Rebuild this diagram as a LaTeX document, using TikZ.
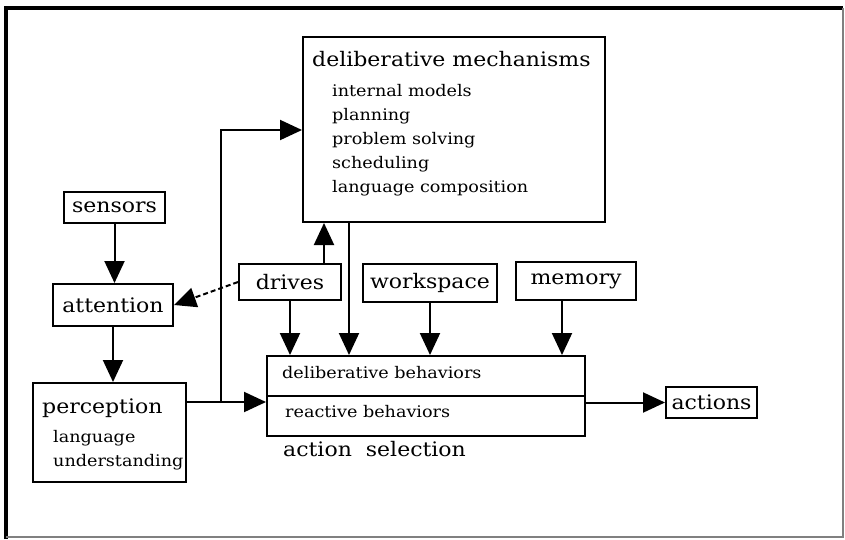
\documentclass[tikz,border=0pt]{standalone}
\usepackage{fontspec}
\setmainfont[FakeStretch=1.1]{DejaVu Serif}
\usetikzlibrary{arrows.meta,calc}
\begin{document}
\begin{tikzpicture}[x=1pt,y=-1pt,
  box/.style={draw,line width=2pt,rectangle,inner sep=0pt,font=\fontsize{20}{24}\selectfont},
  arr/.style={line width=2pt,-{Triangle[length=22pt,width=20pt]}},
  big/.style={inner sep=0pt,font=\fontsize{20}{24}\selectfont},
  small/.style={inner sep=0pt,font=\fontsize{16}{20}\selectfont}]
\useasboundingbox (0,0) rectangle (845,539);
% outer frame
\draw[line width=4pt] (6,539) -- (6,8) -- (843,8);
\draw[gray,line width=1.5pt] (843,8) -- (843,537) -- (6,537);

% boxes
\node[box,minimum width=302pt,minimum height=185pt] (delib) at (454,129.5) {};
\node[big,anchor=base west] at (312,66) {deliberative mechanisms};
\foreach \t [count=\i] in {internal models,planning,problem solving,scheduling,language composition}
  \node[small,anchor=base west] at (332,72+24*\i) {\t};

\node[box,minimum width=101pt,minimum height=31pt] (sensors) at (114.5,207.5) {sensors};
\node[box,minimum width=120pt,minimum height=42pt] (attention) at (113,305) {attention};
\node[box,minimum width=102pt,minimum height=36pt] (drives) at (290,282) {drives};
\node[box,minimum width=134pt,minimum height=38pt] (workspace) at (430,283) {workspace};
\node[box,minimum width=120pt,minimum height=38pt] (memory) at (576,281) {memory};
\node[box,minimum width=91pt,minimum height=31pt] (actions) at (711.5,402.5) {actions};

\node[box,minimum width=153pt,minimum height=99pt] (perception) at (109.5,432.5) {};
\node[big,anchor=base west] at (42,413) {perception};
\node[small,anchor=base west] at (53,442) {language};
\node[small,anchor=base west] at (53,466) {understanding};

\node[box,minimum width=318pt,minimum height=80pt] (action) at (426,396) {};
\draw[line width=2pt] (action.west) -- (action.east);
\node[small,anchor=base west] at (282,378) {deliberative behaviors};
\node[small,anchor=base west] at (285,417) {reactive behaviors};
\node[big,anchor=base west] at (283,456) {action\ \ selection};

% connectors
\draw[arr] (sensors.south) -- (sensors.south |- attention.north);
\draw[arr] (attention.south) -- (attention.south |- perception.north);
\draw[arr] ([xshift=-18pt]drives.north east) -- ([xshift=-18pt]drives.north east |- delib.south);
\draw[arr,dashed,dash pattern=on 5pt off 3pt] (drives.west) -- (attention.east);
\draw[arr] (drives.south) -- (drives.south |- action.north);
\draw[arr] ([xshift=47pt]delib.south west) -- ([xshift=47pt]delib.south west |- action.north);
\draw[arr] (workspace.south) -- (workspace.south |- action.north);
\draw[arr] ([xshift=-14pt]memory.south) -- ([xshift=-14pt]memory.south |- action.north);

\coordinate (pout) at ([yshift=-20pt]perception.north east);
\coordinate (fork) at (221,403);
\coordinate (up) at (221,130);
\draw[arr] (pout) -- (pout -| action.west);
\draw[arr] (fork) -- (up) -- (up -| delib.west);
\draw[arr] (actions.west -| action.east) -- (actions.west);
\end{tikzpicture}
\end{document}
